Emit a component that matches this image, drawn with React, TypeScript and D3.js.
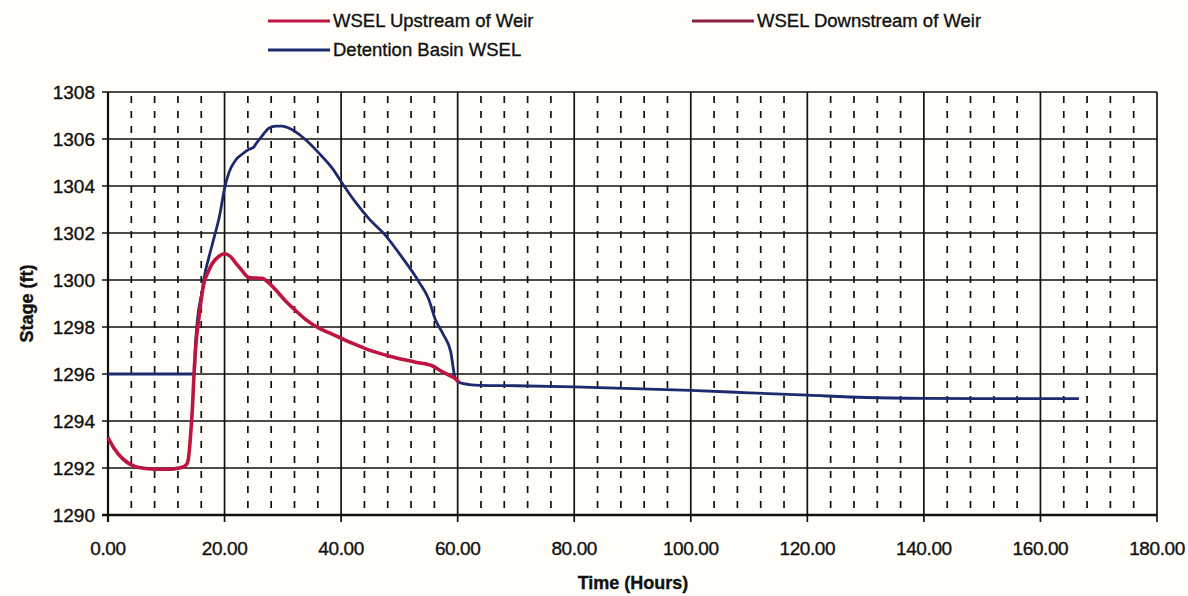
import React from "react";
import * as d3 from "d3";

// Upstream water surface elevation (ft) vs time (hours)
const upstreamHours = [
  0, 1, 2.5, 4.7, 6.5, 8.2, 10.5, 12.2, 13.0, 13.6, 13.9, 14.2, 14.5, 14.8, 15.0, 15.6,
  16.5, 17.2, 17.9, 19, 20, 21, 22, 23, 24.2, 25.5, 26.5, 27.5, 28.8, 30.5, 32.2, 34,
  36.2, 38, 40.2, 42, 44.5, 48.2, 52.8, 55.7, 57, 58.5, 59.6, 60.2,
];
const upstreamStage = [
  1293.3, 1292.85, 1292.4, 1292.06, 1291.98, 1291.95, 1291.95, 1292.0, 1292.06, 1292.2,
  1292.6, 1293.5, 1294.6, 1296.2, 1297.0, 1298.4, 1299.9, 1300.35, 1300.7, 1301.0,
  1301.12, 1301.0, 1300.7, 1300.4, 1300.1, 1300.08, 1300.07, 1299.9, 1299.57, 1299.1,
  1298.7, 1298.3, 1297.95, 1297.75, 1297.5, 1297.3, 1297.05, 1296.77, 1296.5, 1296.34,
  1296.15, 1295.95, 1295.8, 1295.65,
];

// Detention basin water surface elevation (ft) vs time (hours)
const basinHours = [
  0, 14.8, 15.0, 15.3, 16.2, 16.5, 17.3, 18.2, 19.2, 20, 20.8, 21.9, 23, 24.2, 25.0,
  25.4, 26.5, 27.6, 28.8, 29.9, 31, 32.2, 34, 36.2, 38.5, 40.5, 42.5, 44.8, 47.6, 50.5,
  53.4, 55, 56.2, 57.5, 58.8, 59.6, 60.2, 62, 64, 70, 80, 90, 100, 110, 120, 130, 140,
  150, 160, 166.6,
];
const basinStage = [
  1296, 1296, 1297.2, 1298.2, 1299.6, 1300.1, 1300.95, 1301.8, 1302.8, 1303.9, 1304.6,
  1305.1, 1305.35, 1305.56, 1305.65, 1305.8, 1306.15, 1306.46, 1306.55, 1306.55,
  1306.47, 1306.3, 1305.95, 1305.4, 1304.75, 1304.0, 1303.3, 1302.6, 1301.9, 1300.95,
  1299.9, 1299.2, 1298.3, 1297.7, 1296.95, 1295.8, 1295.65, 1295.55, 1295.52, 1295.5,
  1295.45, 1295.38, 1295.3, 1295.2, 1295.1, 1295.0, 1294.96, 1294.95, 1294.95, 1294.95,
];

const xTicks = [0, 20, 40, 60, 80, 100, 120, 140, 160, 180];
const xMinorTicks = d3.range(4, 180, 4).filter((t) => t % 20 !== 0);
const yTicks = [1290, 1292, 1294, 1296, 1298, 1300, 1302, 1304, 1306, 1308];

const legendItems = [
  { label: "WSEL Upstream of Weir", color: "#BE1540", col: 0, row: 0 },
  { label: "WSEL Downstream of Weir", color: "#8C1F45", col: 1, row: 0 },
  { label: "Detention Basin WSEL", color: "#1E2A6E", col: 0, row: 1 },
];

const W = 1188;
const H = 596;
const left = 108;
const right = 1157;
const top = 92;
const bottom = 515;
const font = "'Liberation Sans', Arial, sans-serif";
const ink = "#111";

export default function App() {
  const x = d3.scaleLinear().domain([0, 180]).range([left, right]);
  const y = d3.scaleLinear().domain([1290, 1308]).range([bottom, top]);

  const line = d3
    .line<[number, number]>()
    .x((d) => x(d[0]))
    .y((d) => y(d[1]))
    .curve(d3.curveMonotoneX);

  const upstream = upstreamHours.map((t, i) => [t, upstreamStage[i]] as [number, number]);
  const basin = basinHours.map((t, i) => [t, basinStage[i]] as [number, number]);
  const fmtX = d3.format(".2f");

  const legendX = [268, 692];
  const legendY = [21, 50];
  const textProps = { fontFamily: font, fill: ink, stroke: ink, strokeWidth: 0.35 };

  return (
    <div style={{ position: "absolute", left: 0, top: 0 }}>
      <svg width={W} height={H} style={{ display: "block" }}>
        <rect x={0} y={0} width={W} height={H} fill="#FFFEF9" />

        {/* minor dashed verticals */}
        {xMinorTicks.map((t) => (
          <line
            key={"m" + t}
            x1={x(t)}
            x2={x(t)}
            y1={y(1308) + 4}
            y2={y(1290)}
            stroke={ink}
            strokeWidth={1.7}
            strokeDasharray="7,8"
          />
        ))}

        {/* major horizontal grid */}
        {yTicks.map((v) => (
          <line
            key={"h" + v}
            x1={x(0) - 6}
            x2={x(180)}
            y1={y(v)}
            y2={y(v)}
            stroke={ink}
            strokeWidth={v === 1290 ? 2.4 : 1.7}
          />
        ))}

        {/* major vertical grid with ticks below axis */}
        {xTicks.map((t) => (
          <line
            key={"v" + t}
            x1={x(t)}
            x2={x(t)}
            y1={y(1308)}
            y2={y(1290) + 7}
            stroke={ink}
            strokeWidth={t === 0 ? 2.2 : 1.7}
          />
        ))}

        {/* series */}
        <path d={line(basin) ?? ""} fill="none" stroke="#1E2A6E" strokeWidth={2.8} strokeLinejoin="round" />
        <path d={line(upstream) ?? ""} fill="none" stroke="#BE1540" strokeWidth={3.6} strokeLinejoin="round" />

        {/* y tick labels */}
        {yTicks.map((v) => (
          <text key={"yl" + v} x={95} y={y(v)} dy="0.35em" textAnchor="end" fontSize={19} {...textProps}>
            {v}
          </text>
        ))}

        {/* x tick labels */}
        {xTicks.map((t) => (
          <text
            key={"xl" + t}
            x={x(t)}
            y={548}
            dy="0.35em"
            textAnchor="middle"
            fontSize={19}
            letterSpacing={-0.4}
            {...textProps}
          >
            {fmtX(t)}
          </text>
        ))}

        {/* axis titles */}
        <text x={633} y={583} dy="0.35em" textAnchor="middle" fontSize={18} fontWeight="bold" {...textProps}>
          Time (Hours)
        </text>
        <text
          transform={`translate(27, ${(top + bottom) / 2}) rotate(-90)`}
          dy="0.35em"
          textAnchor="middle"
          fontSize={18}
          fontWeight="bold"
          {...textProps}
        >
          Stage (ft)
        </text>

        {/* legend */}
        {legendItems.map((it) => {
          const lx = legendX[it.col];
          const ly = legendY[it.row];
          return (
            <g key={it.label}>
              <line x1={lx} x2={lx + 62} y1={ly} y2={ly} stroke={it.color} strokeWidth={2.8} />
              <text x={lx + 65} y={ly} dy="0.35em" fontSize={18.5} {...textProps}>
                {it.label}
              </text>
            </g>
          );
        })}
      </svg>
    </div>
  );
}
